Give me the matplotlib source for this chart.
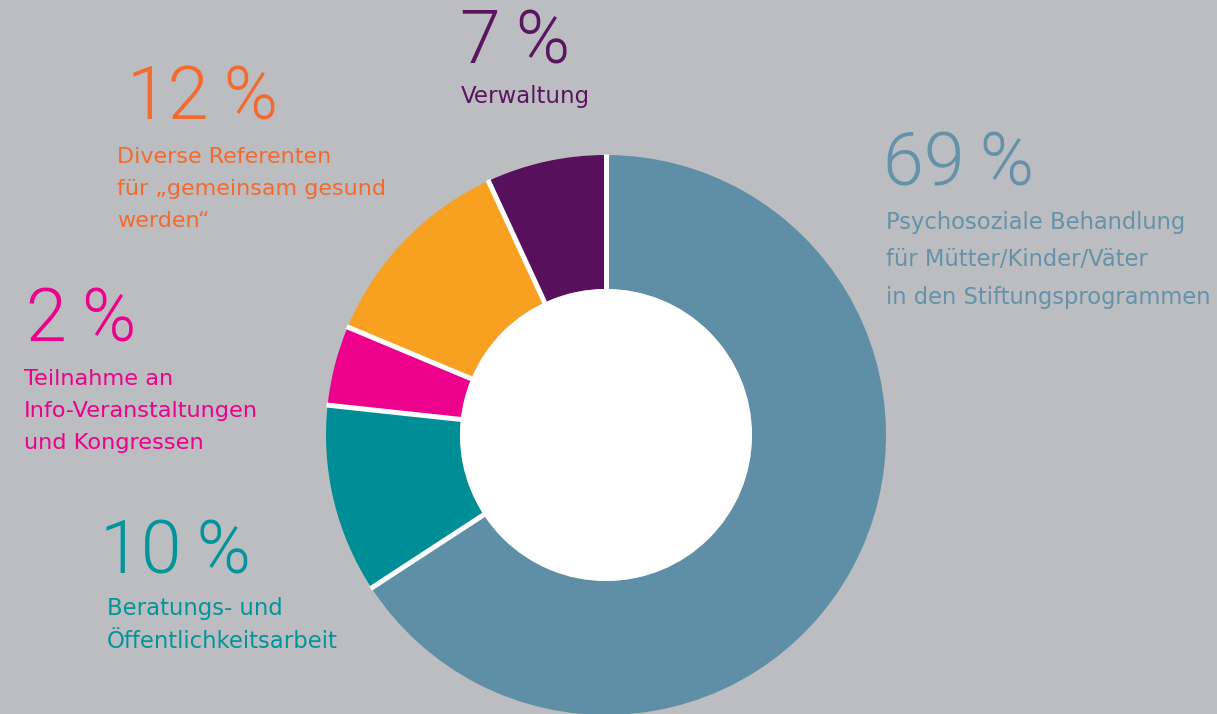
import numpy as np
import matplotlib
matplotlib.use("Agg")
import matplotlib.pyplot as plt
from matplotlib.patches import Circle

# slice shares as drawn in the ring (clockwise from 12 o'clock)
shares = [65.8, 10.9, 4.6, 11.8, 6.9]
pct_labels = ["69\u2009%", "10\u2009%", "2\u2009%", "12\u2009%", "7\u2009%"]
descriptions = [
    ["Psychosoziale Behandlung", "für Mütter/Kinder/Väter", "in den Stiftungsprogrammen"],
    ["Beratungs- und", "Öffentlichkeitsarbeit"],
    ["Teilnahme an", "Info-Veranstaltungen", "und Kongressen"],
    ["Diverse Referenten", "für „gemeinsam gesund", "werden“"],
    ["Verwaltung"],
]
slice_colors = ["#5F8FA6", "#008E96", "#EC008C", "#F8A020", "#58105C"]
text_colors = ["#6392AA", "#00959B", "#EC008C", "#F26A2E", "#5A1560"]

W, H = 1217, 714
BG = "#BCBDC1"
NUM_FONT = ["Roboto", "DejaVu Sans"]
TXT_FONT = ["DejaVu Sans"]

# label block positions in pixels: (x, number baseline, first line baseline, line step, text size)
blocks = [
    (886, 185, 229, 37.5, 16.3),
    (107, 573, 615, 32.5, 16.4),
    (24, 341, 385, 32.0, 16.2),
    (117, 120, 163, 32.0, 16.0),
    (461, 63, 103, 32.0, 16.5),
]
num_x = [883, 100, 26, 127, 460]

fig = plt.figure(figsize=(W / 100, H / 100), dpi=100)
fig.patch.set_facecolor(BG)
ax = fig.add_axes([0, 0, 1, 1])
ax.set_facecolor(BG)

cx, cy = 606, H - 435
r_out, r_in = 280, 146

ax.pie(shares, colors=slice_colors, radius=r_out, center=(cx, cy),
       startangle=90, counterclock=False,
       wedgeprops=dict(width=r_out - r_in, linewidth=0))
ax.add_patch(Circle((cx, cy), r_in, facecolor="white", edgecolor="none", zorder=3))

# white separators between slices
bounds = 90 - 360 * np.cumsum([0] + shares[:-1]) / sum(shares)
for a in np.deg2rad(bounds):
    ax.plot([cx + (r_in - 2) * np.cos(a), cx + (r_out + 1) * np.cos(a)],
            [cy + (r_in - 2) * np.sin(a), cy + (r_out + 1) * np.sin(a)],
            color="white", lw=3.6, solid_capstyle="butt", zorder=4)

for i, (x, nb, lb, step, fs) in enumerate(blocks):
    ax.text(num_x[i], H - nb, pct_labels[i], color=text_colors[i], fontsize=53,
            fontfamily=NUM_FONT, fontweight=300, ha="left", va="baseline")
    for j, line in enumerate(descriptions[i]):
        ax.text(x, H - (lb + j * step), line, color=text_colors[i], fontsize=fs,
                fontfamily=TXT_FONT, ha="left", va="baseline")

ax.set_xlim(0, W)
ax.set_ylim(0, H)
ax.set_aspect("equal")
ax.axis("off")

fig.savefig("out.png", dpi=100, facecolor=BG)
